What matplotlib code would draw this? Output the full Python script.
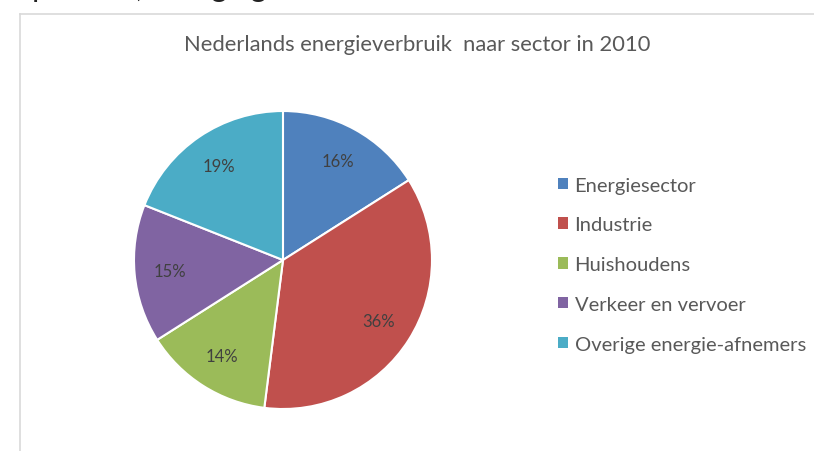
import matplotlib.pyplot as plt
from matplotlib.lines import Line2D
from matplotlib.patches import Patch

plt.rcParams['font.family'] = ['Lato', 'DejaVu Sans']

title = 'Nederlands energieverbruik  naar sector in 2010'
sectors = ['Energiesector', 'Industrie', 'Huishoudens',
           'Verkeer en vervoer', 'Overige energie-afnemers']
shares = [16, 36, 14, 15, 19]
colors = ['#4f81bd', '#c0504d', '#9bbb59', '#8064a2', '#4bacc6']

fig = plt.figure(figsize=(8.14, 4.52), dpi=100)
fig.patch.set_facecolor('white')

# caption of the page above the chart, mostly cut off at the top edge
fig.text(0.0, 1.006, 'in procent, energiegebruik', fontsize=22,
         color='#222222', va='baseline', ha='left')

# chart frame
frame_col = '#d9d9d9'
fig.add_artist(Line2D([0.0246, 1.0], [0.9668, 0.9668], color=frame_col, lw=1.2))
fig.add_artist(Line2D([0.0246, 0.0246], [0.0, 0.9668], color=frame_col, lw=1.2))

fig.text(0.513, 0.90, title, fontsize=15.8, color='#595959', ha='center', va='center')

ax = fig.add_axes([0.1646, 0.0929, 0.3661, 0.6593])
wedges, texts, autotexts = ax.pie(
    shares, colors=colors, startangle=90, counterclock=False,
    autopct=lambda p: '%.0f%%' % p, pctdistance=0.76,
    wedgeprops=dict(edgecolor='white', linewidth=1.5),
    textprops=dict(fontsize=12, color='#404040'))
ax.set_xlim(-1, 1)
ax.set_ylim(-1, 1)
ax.set_aspect('equal')
ax.axis('off')

handles = [Patch(facecolor=c, edgecolor='none') for c in colors]
fig.legend(handles, sectors, loc='upper left', bbox_to_anchor=(0.675, 0.625),
           frameon=False, fontsize=14.5, labelcolor='#595959',
           handlelength=0.5, handleheight=0.5, handletextpad=0.35,
           labelspacing=1.13, borderaxespad=0)

fig.savefig('out.png', dpi=100)
